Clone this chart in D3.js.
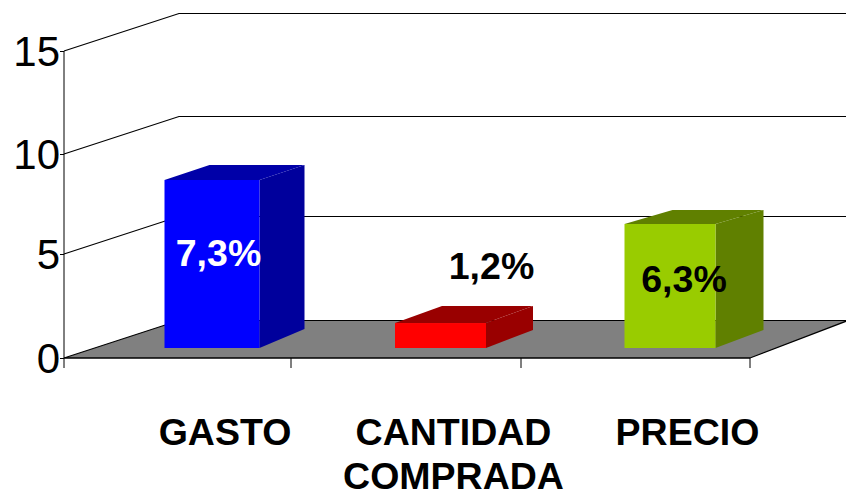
<!DOCTYPE html>
<html><head><meta charset="utf-8">
<script src="https://cdn.jsdelivr.net/npm/d3@7"></script>
<style>html,body{margin:0;padding:0;background:#fff;overflow:hidden}svg{display:block}text{font-family:"Liberation Sans",Arial,sans-serif;fill:#000}</style>
</head><body><script>
const categories = ["GASTO", "CANTIDAD COMPRADA", "PRECIO"];
const plottedValues = [8.2, 1.2, 6.0];
const valueLabels = ["7,3%", "1,2%", "6,3%"];
const yTicks = [0, 5, 10, 15];
const frontColors = ["#0000ff", "#ff0000", "#99cc00"];
const topColors = ["#0000a8", "#990000", "#608000"];
const sideColors = ["#00009c", "#990000", "#608000"];
const labelColors = ["#fff", "#000", "#000"];
const labelPos = [[218.5, 266], [491.5, 279], [684, 292]];

const W = 846, H = 489;
const svg = d3.select("body").append("svg").attr("width", W).attr("height", H);
const xEdge = d3.scaleLinear().domain([0, 1, 2, 3]).range([64, 291, 521, 750]);
const y = d3.scaleLinear().domain(yTicks).range([358, 254, 154, 51]);
const wall = {dx: 115, dy: -37.5};
const barW = [95, 91, 91], barDx = [45, 47, 48], barTopDy = [-15, -17, -14], barBotDy = [-19, -18, -18];
const barF = {fx: 34.5, fy: -10};

svg.append("g").selectAll("path").data(yTicks.slice(1)).join("path")
  .attr("fill", "none").attr("stroke", "#000").attr("stroke-width", 1.2)
  .attr("d", t => d3.line()([[64, y(t)], [64 + wall.dx, y(t) + wall.dy], [W, y(t) + wall.dy]]));

svg.append("path")
  .attr("d", d3.line()([[64, y(0)], [64 + wall.dx, y(0) + wall.dy], [W + 2, y(0) + wall.dy], [750, y(0)]]) + "Z")
  .attr("fill", "#808080").attr("stroke", "#000").attr("stroke-width", 1.2);

const yAxis = d3.axisLeft(y).tickValues(yTicks).tickSize(4).tickPadding(0);
const gy = svg.append("g").attr("transform", "translate(64,0)").call(yAxis);
gy.select(".domain").remove();
gy.selectAll(".tick line").attr("stroke", "#000");
gy.selectAll(".tick text").attr("font-size", 42).attr("x", -4).attr("dy", "0.35em").style("fill", "#000");
svg.append("line").attr("x1", 64).attr("x2", 64).attr("y1", y(15)).attr("y2", 368).attr("stroke", "#000");
svg.append("line").attr("x1", 64).attr("x2", 750).attr("y1", y(0)).attr("y2", y(0)).attr("stroke", "#000").attr("stroke-width", 1.2);
svg.append("g").selectAll("line").data([1, 2, 3]).join("line")
  .attr("x1", d => xEdge(d)).attr("x2", d => xEdge(d))
  .attr("y1", y(0)).attr("y2", 368).attr("stroke", "#000");

const bars = svg.append("g").selectAll("g").data(categories).join("g");
const geom = (d, i) => {
  const c = (xEdge(i) + xEdge(i + 1)) / 2 + barF.fx;
  return {l: c - barW[i] / 2, r: c + barW[i] / 2, t: y(plottedValues[i]) + barF.fy, b: y(0) + barF.fy};
};
bars.append("path").attr("fill", (d, i) => sideColors[i]).attr("d", (d, i) => {
  const g = geom(d, i);
  return d3.line()([[g.r, g.t], [g.r + barDx[i], g.t + barTopDy[i]], [g.r + barDx[i], g.b + barBotDy[i]], [g.r, g.b]]) + "Z";
});
bars.append("path").attr("fill", (d, i) => topColors[i]).attr("d", (d, i) => {
  const g = geom(d, i);
  return d3.line()([[g.l, g.t], [g.l + barDx[i], g.t + barTopDy[i]], [g.r + barDx[i], g.t + barTopDy[i]], [g.r, g.t]]) + "Z";
});
bars.append("rect").attr("fill", (d, i) => frontColors[i])
  .attr("x", (d, i) => geom(d, i).l).attr("y", (d, i) => geom(d, i).t)
  .attr("width", (d, i) => barW[i]).attr("height", (d, i) => geom(d, i).b - geom(d, i).t);

svg.append("g").selectAll("text").data(valueLabels).join("text")
  .attr("text-anchor", "middle").attr("font-weight", "bold").attr("font-size", 37.5)
  .attr("x", (d, i) => labelPos[i][0]).attr("y", (d, i) => labelPos[i][1])
  .style("fill", (d, i) => labelColors[i]).text(d => d);

const catLines = [["GASTO"], ["CANTIDAD", "COMPRADA"], ["PRECIO"]];
const catX = [225, 453.5, 687.5];
const catG = svg.append("g").selectAll("text").data(categories).join("text")
  .attr("text-anchor", "middle").attr("font-weight", "bold").attr("font-size", 37.5)
  .attr("transform", (d, i) => `translate(${catX[i]},444.5)`);
catG.each(function (d, i) {
  d3.select(this).selectAll("tspan").data(catLines[i]).join("tspan")
    .attr("x", 0).attr("y", (s, j) => j * 44).text(s => s);
});
</script></body></html>
